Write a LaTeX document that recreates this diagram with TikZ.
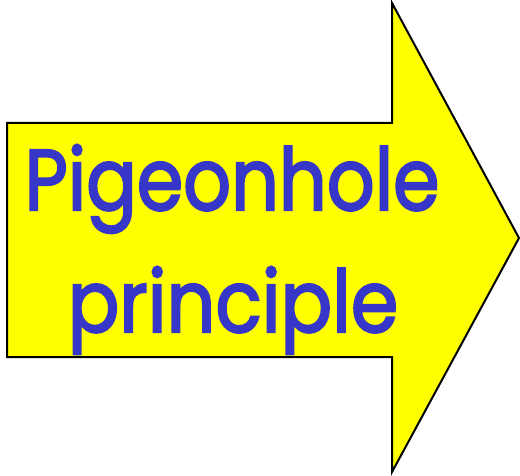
\documentclass[tikz,border=0pt]{standalone}
\usepackage{fontspec}
\usepackage{graphicx}
\newfontfamily\labelfont{Poppins}[FakeBold=2.6]
\definecolor{arrowyellow}{RGB}{255,255,0}
\definecolor{textblue}{RGB}{54,54,200}
\newcommand{\narrowtext}[1]{\scalebox{0.87}[1]{#1}}
\begin{document}
\begin{tikzpicture}[x=1pt,y=1pt,
  label text/.style={text=textblue, font=\labelfont\fontsize{86}{96}\selectfont, inner sep=0pt, anchor=base}]
\useasboundingbox (0,0) rectangle (520,475);
\coordinate (a1) at (7,352);
\coordinate (a2) at (392,352);
\coordinate (a3) at (392,472);
\coordinate (a4) at (519,237);
\coordinate (a5) at (392,3);
\coordinate (a6) at (392,118);
\coordinate (a7) at (7,118);
\draw[line width=2pt, fill=arrowyellow, line join=miter] (a1) -- (a2) -- (a3) -- (a4) -- (a5) -- (a6) -- (a7) -- cycle;
\node[label text] (t1) at (232,265) {\narrowtext{Pigeonhole}};
\node[label text] (t2) at (233,143) {\scalebox{1.02}[1]{\narrowtext{principle}}};
\end{tikzpicture}
\end{document}
